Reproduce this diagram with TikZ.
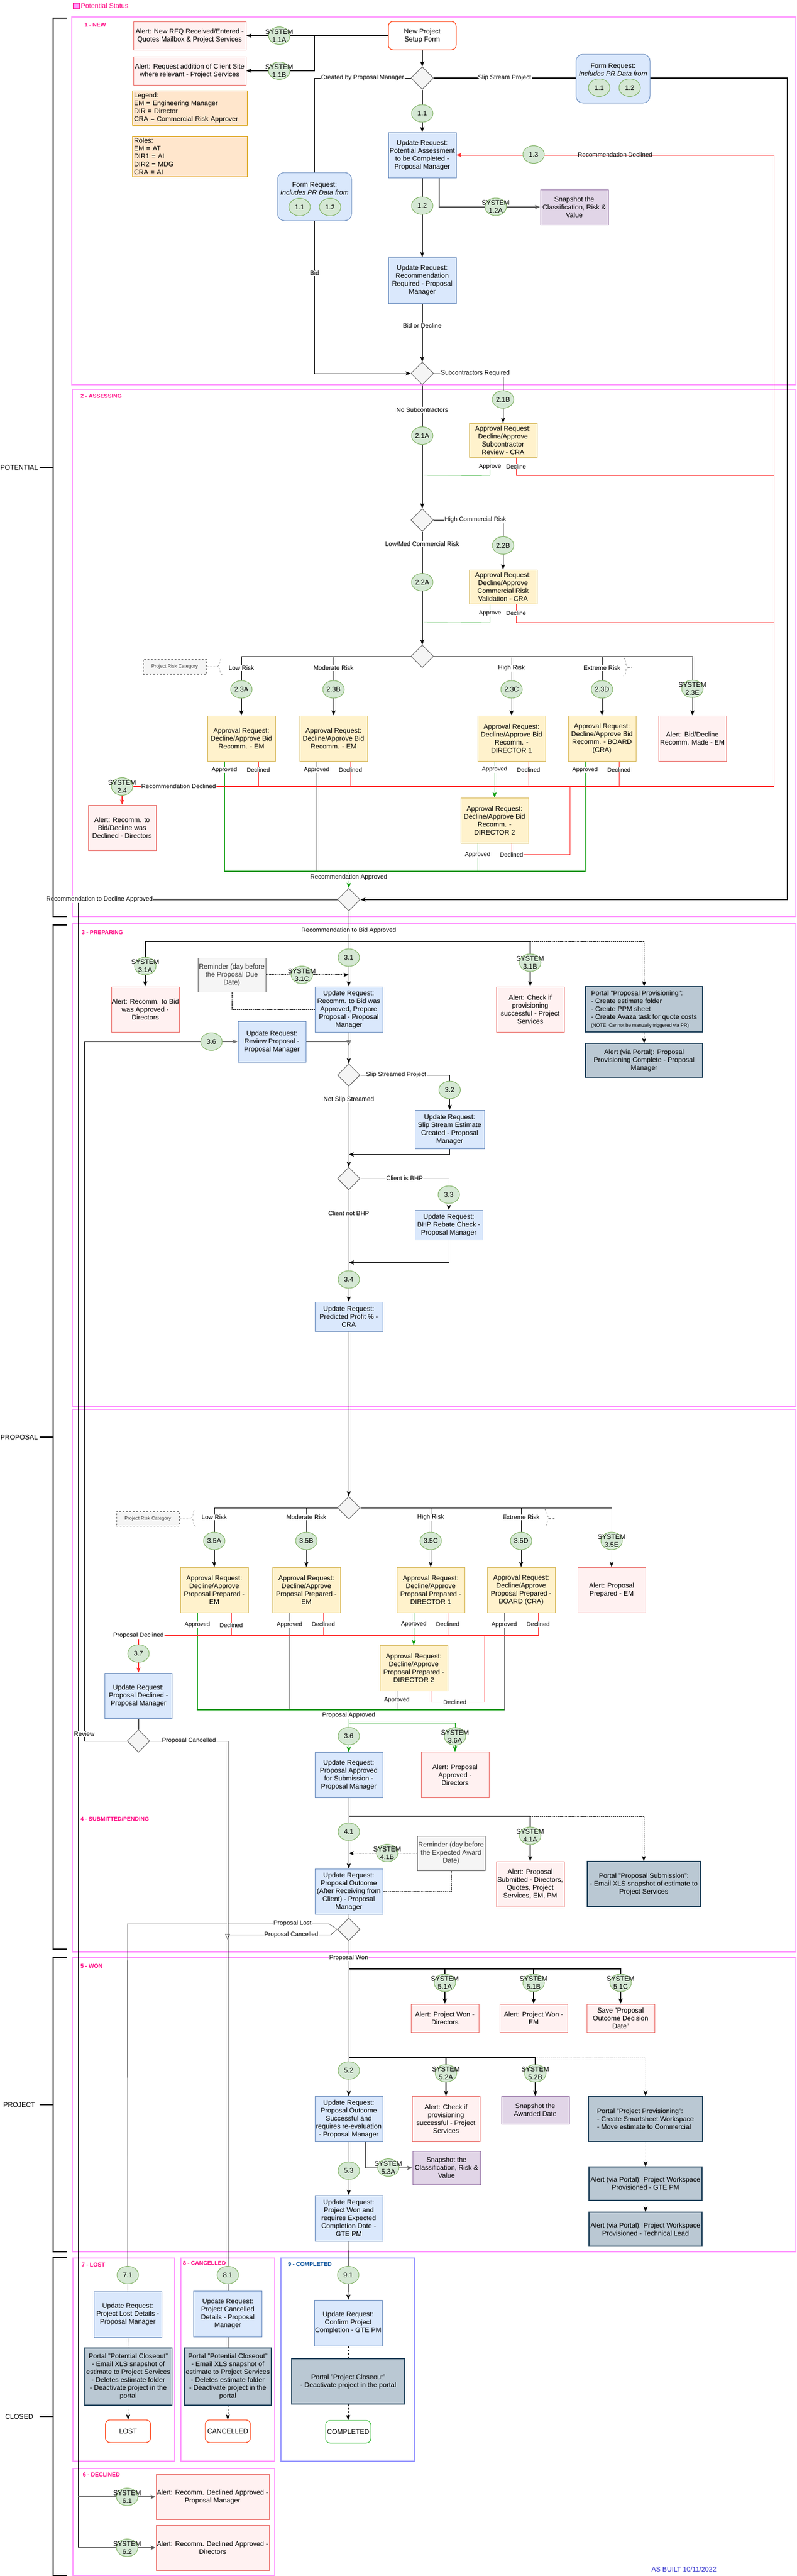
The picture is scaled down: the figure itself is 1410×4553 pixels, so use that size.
\documentclass[tikz,border=0pt]{standalone}
\usepackage{fontspec}
\setmainfont{Liberation Sans}
\usepackage{tikz}
\usetikzlibrary{arrows,arrows.meta,positioning,shapes.geometric,calc,decorations.pathreplacing}
\pgfdeclarelayer{background}
\pgfdeclarelayer{foreground}
\pgfsetlayers{background,main,foreground}
\definecolor{updfill}{HTML}{DAE8FC}
\definecolor{upddraw}{HTML}{6C8EBF}
\definecolor{apvfill}{HTML}{FFF2CC}
\definecolor{apvdraw}{HTML}{D6B656}
\definecolor{alrfill}{HTML}{FFF1F1}
\definecolor{alrdraw}{HTML}{EA6B66}
\definecolor{prtfill}{HTML}{BAC8D3}
\definecolor{prtdraw}{HTML}{23445D}
\definecolor{snpfill}{HTML}{E1D5E7}
\definecolor{snpdraw}{HTML}{9673A6}
\definecolor{bdgfill}{HTML}{D5E8D4}
\definecolor{bdgdraw}{HTML}{82B366}
\definecolor{lgdfill}{HTML}{FFE6CC}
\definecolor{lgddraw}{HTML}{D79B00}
\definecolor{lanepink}{HTML}{FF99FF}
\definecolor{lanetxt}{HTML}{FF0080}
\definecolor{laneblue}{HTML}{9999FF}
\definecolor{bluetxt}{HTML}{004C99}
\definecolor{termred}{HTML}{FF3300}
\definecolor{termgrn}{HTML}{2DB82D}
\definecolor{grn}{HTML}{009900}
\definecolor{rd}{HTML}{FF3333}
\definecolor{asbuilt}{HTML}{3333CC}
\tikzstyle{box}=[draw, inner sep=0pt, align=center, minimum width=120pt, minimum height=80pt]
\tikzstyle{ureq}=[box, fill=updfill, draw=upddraw]
\tikzstyle{areq}=[box, fill=apvfill, draw=apvdraw]
\tikzstyle{alrt}=[box, fill=alrfill, draw=alrdraw]
\tikzstyle{prtl}=[box, fill=prtfill, draw=prtdraw, line width=1.3pt]
\tikzstyle{snapb}=[box, fill=snpfill, draw=snpdraw]
\tikzstyle{remd}=[box, fill=black!4, draw=black!60, text=black!80, minimum height=60pt]
\tikzstyle{term}=[box, rounded corners=8pt, fill=white, draw=termred, minimum width=80pt, minimum height=40pt]
\tikzstyle{form}=[box, rounded corners=12pt, fill=updfill, draw=upddraw, minimum width=131pt, minimum height=86pt]
\tikzstyle{note}=[draw=lgddraw, fill=lgdfill, inner sep=3pt, text width=197pt, align=left]
\tikzstyle{decision}=[diamond, draw=black!60, fill=black!4, minimum width=40pt, minimum height=40pt, inner sep=0pt]
\tikzstyle{badge}=[ellipse, draw=bdgdraw, fill=bdgfill, minimum width=38pt, minimum height=31pt, inner sep=0pt]
\tikzstyle{prc}=[draw=black!60, dashed, fill=black!4, text=black!80, inner sep=0pt, minimum width=112pt, minimum height=27pt, font=\fontsize{8.5}{10}\selectfont]
\tikzstyle{line}=[draw, -{Stealth[length=9pt,width=7pt,inset=2pt]}]
\tikzstyle{heavy}=[line width=1.6pt]
\tikzstyle{lbl}=[fill=white, inner sep=1pt, font=\fontsize{11}{13}\selectfont]
\tikzstyle{sm}=[fill=white, inner sep=1pt, font=\fontsize{10.5}{12}\selectfont]
\tikzstyle{lane}=[draw=lanepink, line width=1.3pt]
\tikzstyle{lanelbl}=[anchor=west, inner sep=0pt, text=lanetxt, font=\bfseries]
\tikzstyle{brk}=[draw, line width=2.5pt]
\tikzstyle{brc}=[draw=black!70, dashed, decorate, decoration={brace,amplitude=8pt}]
\newcommand{\ureq}[3]{node (#1)[ureq,#2]{#3}}
\newcommand{\areq}[3]{node (#1)[areq,#2]{#3}}
\newcommand{\alrt}[3]{node (#1)[alrt,#2]{#3}}
\newcommand{\prtl}[3]{node (#1)[prtl,#2]{#3}}
\newcommand{\snapb}[3]{node (#1)[snapb,#2]{#3}}
\newcommand{\remd}[3]{node (#1)[remd,#2]{#3}}
\newcommand{\term}[3]{node (#1)[term,#2]{#3}}
\newcommand{\decn}[1]{node (#1)[decision]{}}
\newcommand{\bdg}[2]{node (#1)[badge]{#2}}
\newcommand{\sysb}[2]{node (#1)[badge,label={[align=center]center:{SYSTEM\\#2}}]{}}
\begin{document}
\begin{tikzpicture}[x=1pt,y=-1pt,line width=1pt,font=\fontsize{12}{14}\selectfont]
\useasboundingbox (0,0) rectangle (1410,4553);

% key and phases
\path (134.5,10) node (key)[draw=lanetxt, fill=lanepink, minimum width=11pt, minimum height=10pt, inner sep=0pt]{};
\path (key.east)+(2,0) node (keyt)[anchor=west, inner sep=0pt, text=lanetxt]{Potential Status};
\foreach \ya/\yb/\ph in {32/1620/POTENTIAL,1635/3445/PROPOSAL,3460/3980/PROJECT,3990/4552/CLOSED}{
  \draw[brk] (118,\ya) -- (94,\ya) -- (94,\yb) -- (118,\yb);
  \draw[brk] (70,{(\ya+\yb)/2}) -- (94,{(\ya+\yb)/2});
  \node[inner sep=0pt] at (34,{(\ya+\yb)/2}) {\ph};
}

% 1 - NEW
\node[lanelbl] (l1) at (149,44) {1 - NEW};
\path (747,63) \term{pnew}{minimum width=120pt, minimum height=50pt}{New Project\\Setup Form};
\path (335.5,63) \alrt{a11a}{minimum width=199pt, minimum height=50pt}{Alert: New RFQ Received/Entered -\\Quotes Mailbox \& Project Services};
\path (335.5,125) \alrt{a11b}{minimum width=199pt, minimum height=50pt}{Alert: Request addition of Client Site\\where relevant - Project Services};
\path (494,63) \sysb{s11a}{1.1A};
\path (494,125) \sysb{s11b}{1.1B};
\path (335.5,190.5) node (lgd)[note, minimum height=61pt]{Legend:\\EM = Engineering Manager\\DIR = Director\\CRA = Commercial Risk Approver};
\path (335.5,276.5) node (rls)[note, minimum height=71pt]{Roles:\\EM = AT\\DIR1 = AI\\DIR2 = MDG\\CRA = AI};
\path (747,138) \decn{d1};
\path (1084.5,139) node (fr2)[form]{};
\path (fr2.north)+(0,28) node (fr2t)[align=center, inner sep=0pt]{Form Request:\\\textit{Includes PR Data from}};
\path (fr2.center)+(-24.5,16) \bdg{f2a}{1.1};
\path (fr2.center)+(29.5,16) \bdg{f2b}{1.2};
\path (d1.south)+(0,42) \bdg{b11}{1.1};
\path (747,274) \ureq{u1}{}{Update Request:\\Potential Assessment\\to be Completed -\\Proposal Manager};
\path (944,273) \bdg{b13}{1.3};
\path (556.5,347.5) node (fr1)[form, minimum height=85pt]{};
\path (fr1.north)+(0,29) node (fr1t)[align=center, inner sep=0pt]{Form Request:\\\textit{Includes PR Data from}};
\path (fr1.center)+(-26.5,18.5) \bdg{f1a}{1.1};
\path (fr1.center)+(27.5,18.5) \bdg{f1b}{1.2};
\path (u1.south)+(0,49) \bdg{b12}{1.2};
\path (u1.south)+(130,51) \sysb{s12a}{1.2A};
\path (1016,366) \snapb{sn1}{minimum height=62pt}{Snapshot the\\Classification, Risk \&\\Value};
\path (747,495.5) \ureq{u2}{minimum height=81pt}{Update Request:\\Recommendation\\Required - Proposal\\Manager};
\path (747,660) \decn{d2};

% 2 - ASSESSING
\node[lanelbl] (l2) at (142,700) {2 - ASSESSING};
\path (890,706) \bdg{b21b}{2.1B};
\path (890,778) \areq{ap21b}{minimum height=60pt}{Approval Request:\\Decline/Approve\\Subcontractor\\Review - CRA};
\path (747,770) \bdg{b21a}{2.1A};
\path (747,919) \decn{d3};
\path (890,964) \bdg{b22b}{2.2B};
\path (890,1037) \areq{ap22b}{minimum height=60pt}{Approval Request:\\Decline/Approve\\Commercial Risk\\Validation - CRA};
\path (747,1029) \bdg{b22a}{2.2A};
\path (747,1160) \decn{d4};
\path (309,1178.5) node (prc1)[prc]{Project Risk Category};
\path (427,1305) \areq{ap23a}{}{Approval Request:\\Decline/Approve Bid\\Recomm. - EM};
\path (590,1305) \areq{ap23b}{}{Approval Request:\\Decline/Approve Bid\\Recomm. - EM};
\path (905,1305) \areq{ap23c}{}{Approval Request:\\Decline/Approve Bid\\Recomm. -\\DIRECTOR 1};
\path (1065,1305) \areq{ap23d}{}{Approval Request:\\Decline/Approve Bid\\Recomm. - BOARD\\(CRA)};
\path (1225,1305) \alrt{al23e}{}{Alert: Bid/Decline\\Recomm. Made - EM};
\path (ap23a.north)+(0,-46) \bdg{b23a}{2.3A};
\path (ap23b.north)+(0,-46) \bdg{b23b}{2.3B};
\path (ap23c.north)+(0,-46) \bdg{b23c}{2.3C};
\path (ap23d.north)+(0,-46) \bdg{b23d}{2.3D};
\path (al23e.north)+(0,-47) \sysb{s23e}{2.3E};
\path (875,1450) \areq{ap23f}{}{Approval Request:\\Decline/Approve Bid\\Recomm. -\\DIRECTOR 2};
\path (216,1390) \sysb{s24}{2.4};
\path (216,1463) \alrt{al24}{}{Alert: Recomm. to\\Bid/Decline was\\Declined - Directors};
\path (617,1590) \decn{d5};

% 3 - PREPARING
\node[lanelbl] (l3) at (144,1648) {3 - PREPARING};
\path (617,1784) \ureq{u31}{}{Update Request:\\Recomm. to Bid was\\Approved, Prepare\\Proposal - Proposal\\Manager};
\path (u31.north)+(0,-51) \bdg{b31}{3.1};
\path (257,1784) \alrt{al31a}{}{Alert: Recomm. to Bid\\was Approved -\\Directors};
\path (al31a.north)+(0,-36) \sysb{s31a}{3.1A};
\path (938,1784) \alrt{al31b}{}{Alert: Check if\\provisioning\\successful - Project\\Services};
\path (al31b.north)+(0,-42) \sysb{s31b}{3.1B};
\path (1139.5,1784) \prtl{pr31}{minimum width=207pt, align=left}{Portal "Proposal Provisioning":\\- Create estimate folder\\- Create PPM sheet\\- Create Avaza task for quote costs\\{\fontsize{8.5}{10}\selectfont(NOTE: Cannot be manually triggered via PR)}};
\path (pr31.south)+(0,50) \prtl{pr31b}{minimum width=207pt, minimum height=60pt}{Alert (via Portal): Proposal\\Provisioning Complete - Proposal\\Manager};
\path (410,1723) \remd{rm31}{}{Reminder (day before\\the Proposal Due\\Date)};
\path (534,1723) \sysb{s31c}{3.1C};
\path (481,1841) \ureq{ur36r}{minimum height=72pt}{Update Request:\\Review Proposal -\\Proposal Manager};
\path (374,1841) \bdg{b36}{3.6};
\path (617,1900) \decn{d6};
\path (795.5,1996) \ureq{u32}{minimum width=123pt, minimum height=68pt}{Update Request:\\Slip Stream Estimate\\Created - Proposal\\Manager};
\path (u32.north)+(0,-35) \bdg{b32}{3.2};
\path (617,2083) \decn{d7};
\path (794,2165) \ureq{u33}{minimum height=52pt}{Update Request:\\BHP Rebate Check -\\Proposal Manager};
\path (u33.north)+(0,-27) \bdg{b33}{3.3};
\path (617,2327) \ureq{u34}{minimum height=52pt}{Update Request:\\Predicted Profit \% -\\CRA};
\path (u34.north)+(0,-39) \bdg{b34}{3.4};
\path (617,2665) \decn{d8};
\path (261.5,2684) node (prc2)[prc, minimum width=111pt, minimum height=26pt]{Project Risk Category};
\path (379,2810) \areq{ap35a}{}{Approval Request:\\Decline/Approve\\Proposal Prepared -\\EM};
\path (542,2810) \areq{ap35b}{}{Approval Request:\\Decline/Approve\\Proposal Prepared -\\EM};
\path (762,2810) \areq{ap35c}{}{Approval Request:\\Decline/Approve\\Proposal Prepared -\\DIRECTOR 1};
\path (922,2810) \areq{ap35d}{}{Approval Request:\\Decline/Approve\\Proposal Prepared -\\BOARD (CRA)};
\path (1082,2810) \alrt{al35e}{}{Alert: Proposal\\Prepared - EM};
\path (ap35a.north)+(0,-46) \bdg{b35a}{3.5A};
\path (ap35b.north)+(0,-46) \bdg{b35b}{3.5B};
\path (ap35c.north)+(0,-46) \bdg{b35c}{3.5C};
\path (ap35d.north)+(0,-46) \bdg{b35d}{3.5D};
\path (al35e.north)+(0,-46) \sysb{s35e}{3.5E};
\path (732,2948) \areq{ap35f}{}{Approval Request:\\Decline/Approve\\Proposal Prepared -\\DIRECTOR 2};
\path (245,2997) \ureq{u37}{minimum width=119pt}{Update Request:\\Proposal Declined -\\Proposal Manager};
\path (u37.north)+(0,-34) \bdg{b37}{3.7};
\path (245,3077) \decn{d9};
\path (617,3137) \ureq{u36}{}{Update Request:\\Proposal Approved\\for Submission -\\Proposal Manager};
\path (u36.north)+(0,-28) \bdg{b36b}{3.6};
\path (805,3137) \alrt{al36a}{minimum height=81pt}{Alert: Proposal\\Approved -\\Directors};
\path (al36a.north)+(0,-27) \sysb{s36a}{3.6A};

% 4 - SUBMITTED/PENDING
\node[lanelbl] (l4) at (142,3215) {4 - SUBMITTED/PENDING};
\path (617,3343) \ureq{u41}{}{Update Request:\\Proposal Outcome\\(After Receiving from\\Client) - Proposal\\Manager};
\path (u41.north)+(0,-65) \bdg{b41}{4.1};
\path (938,3330) \alrt{al41a}{}{Alert: Proposal\\Submitted - Directors,\\Quotes, Project\\Services, EM, PM};
\path (al41a.north)+(0,-45) \sysb{s41a}{4.1A};
\path (1139,3330) \prtl{pr41}{minimum width=200pt}{Portal "Proposal Submission":\\- Email XLS snapshot of estimate to\\Project Services};
\path (798,3275.5) \remd{rm41}{minimum height=61pt}{Reminder (day before\\the Expected Award\\Date)};
\path (685,3275) \sysb{s41b}{4.1B};
\path (617,3410) \decn{d10};

% 5 - WON
\node[lanelbl] (l5) at (142,3475) {5 - WON};
\path (787,3567) \alrt{al51a}{minimum height=50pt}{Alert: Project Won -\\Directors};
\path (944,3567) \alrt{al51b}{minimum height=50pt}{Alert: Project Won -\\EM};
\path (1098,3567) \alrt{al51c}{minimum height=50pt}{Save "Proposal\\Outcome Decision\\Date"};
\path (al51a.north)+(0,-37) \sysb{s51a}{5.1A};
\path (al51b.north)+(0,-37) \sysb{s51b}{5.1B};
\path (al51c.north)+(0,-37) \sysb{s51c}{5.1C};
\path (617,3745) \ureq{u52}{}{Update Request:\\Proposal Outcome\\Successful and\\requires re-evaluation\\- Proposal Manager};
\path (u52.north)+(0,-45) \bdg{b52}{5.2};
\path (789,3745) \alrt{al52a}{}{Alert: Check if\\provisioning\\successful - Project\\Services};
\path (al52a.north)+(0,-40) \sysb{s52a}{5.2A};
\path (947,3729.5) \snapb{sn52}{minimum height=49pt}{Snapshot the\\Awarded Date};
\path (sn52.north)+(0,-40) \sysb{s52b}{5.2B};
\path (1142,3745) \prtl{pr52}{minimum width=202pt, align=left}{Portal "Project Provisioning":\\- Create Smartsheet Workspace\\- Move estimate to Commercial};
\path (1142,3859.5) \prtl{pa52}{minimum width=200pt, minimum height=59pt}{Alert (via Portal): Project Workspace\\Provisioned - GTE PM};
\path (1142,3940) \prtl{pa52b}{minimum width=200pt, minimum height=60pt}{Alert (via Portal): Project Workspace\\Provisioned - Technical Lead};
\path (617,3920.5) \ureq{u53}{minimum height=81pt}{Update Request:\\Project Won and\\requires Expected\\Completion Date -\\GTE PM};
\path (u53.north)+(0,-43) \bdg{b53}{5.3};
\path (790,3831.5) \snapb{sn53}{minimum height=59pt}{Snapshot the\\Classification, Risk \&\\Value};
\path (687,3831) \sysb{s53a}{5.3A};

% 7, 8, 9, 6
\node[lanelbl, font=\fontsize{10}{12}\selectfont\bfseries] (l7) at (144,4003) {7 - LOST};
\node[lanelbl, font=\fontsize{10}{12}\selectfont\bfseries] (l8) at (323,4000) {8 - CANCELLED};
\node[lanelbl, text=bluetxt, font=\fontsize{10}{12}\selectfont\bfseries] (l9) at (509,4002) {9 - COMPLETED};
\node[lanelbl, font=\fontsize{10}{12}\selectfont\bfseries] (l6) at (146,4374) {6 - DECLINED};
\path (226,4090.5) \ureq{u71}{minimum height=81pt}{Update Request:\\Project Lost Details -\\Proposal Manager};
\path (226,4021) \bdg{b71}{7.1};
\path (227,4200.5) \prtl{pr71}{minimum width=155pt, minimum height=101pt}{Portal "Potential Closeout"\\- Email XLS snapshot of\\estimate to Project Services\\- Deletes estimate folder\\- Deactivate project in the\\portal};
\path (226.5,4297) \term{t71}{}{LOST};
\path (403,4089.5) \ureq{u81}{minimum width=121pt, minimum height=81pt}{Update Request:\\Project Cancelled\\Details - Proposal\\Manager};
\path (403,4021) \bdg{b81}{8.1};
\path (403,4200.5) \prtl{pr81}{minimum width=154pt, minimum height=101pt}{Portal "Potential Closeout"\\- Email XLS snapshot of\\estimate to Project Services\\- Deletes estimate folder\\- Deactivate project in the\\portal};
\path (403,4297) \term{t81}{}{CANCELLED};
\path (616,4105.5) \ureq{u91}{minimum height=81pt}{Update Request:\\Confirm Project\\Completion - GTE PM};
\path (616,4021) \bdg{b91}{9.1};
\path (616,4209) \prtl{pr91}{minimum width=200pt}{Portal "Project Closeout"\\- Deactivate project in the portal};
\path (616,4298) \term{t91}{draw=termgrn}{COMPLETED};
\path (376,4413) \alrt{al61}{minimum width=200pt}{Alert: Recomm. Declined Approved -\\Proposal Manager};
\path (225,4413) \sysb{s61}{6.1};
\path (376,4503) \alrt{al62}{minimum width=200pt}{Alert: Recomm. Declined Approved -\\Directors};
\path (225,4503) \sysb{s62}{6.2};
\node[anchor=west, inner sep=0pt, text=asbuilt] (asb) at (1152,4541) {AS BUILT 10/11/2022};

% junctions
\coordinate (j11) at (556,63);
\coordinate (rb) at (1369,1390);
\coordinate (g21) at (747,840);
\coordinate (g22) at (747,1100);
\coordinate (gb1) at (397,1540);
\coordinate (gb2) at (1035,1540);
\coordinate (j31) at (617,1664);
\coordinate (cr9) at (149,3077);
\coordinate (cr36) at (149,1841);
\coordinate (rb3) at (953,2891);
\coordinate (gb3) at (348,3022);
\coordinate (gb4) at (892,3022);
\coordinate (g36) at (617,3045);
\coordinate (j41) at (617,3210);
\coordinate (j51) at (617,3480);
\coordinate (j52) at (617,3637);
\coordinate (j61) at (138,4413);
\coordinate (j62) at (138,4503);

\begin{pgfonlayer}{background}
% lanes
\draw[lane] (127,30) rectangle (1408,680);
\draw[lane] (128,688) rectangle (1408,1620);
\draw[lane] (128,1632) rectangle (1408,2486);
\draw[lane] (128,2491) rectangle (1408,3450);
\draw[lane] (128,3460) rectangle (1408,3980);
\draw[lane] (129,3991) rectangle (309,4350);
\draw[lane] (320,3991) rectangle (486,4350);
\draw[lane, draw=laneblue] (497,3991) rectangle (733,4350);
\draw[lane] (129,4363) rectangle (486,4552);

% 1 - NEW
\path[line,heavy] (pnew) -- (a11a);
\path[line,heavy] (j11) |- (a11b);
\path[line] (pnew) -- (d1);
\path[line] (d1.west) -- node[lbl]{Created by Proposal Manager} (d1.west -| fr1) |- node[lbl,pos=0.33]{Bid} (d2.west);
\path[line,heavy] (d1.east) -- node[lbl,pos=0.2]{Slip Stream Project} (1393,138) |- (d5.east);
\path[line] (d1) -- (u1);
\path[line,draw=rd] (rb) -- (1369,274) -- node[font=\fontsize{11}{13}\selectfont]{Recommendation Declined} (u1.east);
\path[line] (u1) -- (u2);
\path[line,heavy,draw=black!65] ($(u1.south)+(30,0)$) |- (sn1);
\path[line] (u2) -- node[lbl,pos=0.375]{Bid or Decline} (d2);

% 2 - ASSESSING
\path[line] (d2.east) -- node[lbl,pos=0.6]{Subcontractors Required} (d2.east -| ap21b) -- (ap21b);
\path[line] (d2) -- node[lbl,pos=0.2]{No Subcontractors} (d3);
\path[draw=grn] ($(ap21b.south)+(-23,0)$) -- node[sm]{Approve} ++(0,32) -- (g21);
\path[draw=rd] ($(ap21b.south)+(23,0)$) -- node[sm]{Decline} ++(0,32) -| (rb);
\path[line] (d3.east) -- node[lbl,pos=0.6]{High Commercial Risk} (d3.east -| ap22b) -- (ap22b);
\path[line] (d3) -- node[lbl,pos=0.11]{Low/Med Commercial Risk} (d4);
\path[draw=grn] ($(ap22b.south)+(-23,0)$) -- node[sm]{Approve} ++(0,33) -- (g22);
\path[draw=rd] ($(ap22b.south)+(23,0)$) -- node[sm]{Decline} ++(0,33) -| (rb);
\path[line] (d4.west) -| node[lbl,pos=0.6]{Low Risk} (ap23a);
\path[line] (d4.west) -| node[lbl,pos=0.6]{Moderate Risk} (ap23b);
\path[line] (d4.east) -| node[lbl,pos=0.6]{High Risk} (ap23c);
\path[line] (d4.east) -| node[lbl,pos=0.6]{Extreme Risk} (ap23d);
\path[line] (d4.east) -| (al23e);
\draw[brc] (393,1193) -- (393,1163);
\draw[brc] (1103,1163) -- (1103,1195);
\path[draw=black!70,dashed] (prc1) -- (385,1178);
\path[draw=black!70,dashed] (1111,1179) -- (1118,1179);
\path[draw=grn] ($(ap23a.south)+(-30,0)$) -- node[sm,pos=0.077]{Approved} ++(0,195);
\path[draw=rd] ($(ap23a.south)+(30,0)$) -- node[sm,pos=0.33]{Declined} ++(0,45);
\path[draw=black!60] ($(ap23b.south)+(-30,0)$) -- node[sm,pos=0.077]{Approved} ++(0,195);
\path[draw=rd] ($(ap23b.south)+(30,0)$) -- node[sm,pos=0.33]{Declined} ++(0,45);
\path[line,draw=grn] ($(ap23c.south)+(-30,0)$) -- node[sm,pos=0.23]{Approved} (ap23f);
\path[draw=rd] ($(ap23c.south)+(30,0)$) -- node[sm,pos=0.33]{Declined} ++(0,45);
\path[draw=grn] ($(ap23d.south)+(-30,0)$) -- node[sm,pos=0.077]{Approved} ++(0,195);
\path[draw=rd] ($(ap23d.south)+(30,0)$) -- node[sm,pos=0.33]{Declined} ++(0,45);
\path[draw=grn] ($(ap23f.south)+(-30,0)$) -- node[sm,pos=0.4]{Approved} ++(0,50);
\path[draw=rd] ($(ap23f.south)+(30,0)$) -- ++(0,20) node[sm]{Declined} -- ++(103,0) -- ++(0,-120);
\path[draw=grn,heavy] (gb1) -- (gb2);
\path[line,draw=grn] (d5 |- gb1) -- node[lbl,pos=0.37]{Recommendation Approved} (d5);
\path[line,draw=rd,heavy] (rb) -- node[lbl,pos=0.929]{Recommendation Declined} (s24) -- (al24);
\path[draw] (d5.west) -- node[lbl,pos=0.917]{Recommendation to Decline Approved} (138,1590) -- (j62);
\path[line,heavy,draw=black!65] (j61) -- (al61);
\path[line,heavy,draw=black!65] (j62) -- (al62);
\path[line] (d5) -- node[lbl,pos=0.26]{Recommendation to Bid Approved} (u31);

% 3 - PREPARING
\path[line,heavy] (j31) -| (al31a);
\path[line,heavy] (j31) -| (al31b);
\path[line,densely dotted] (j31 -| al31b) -| (pr31);
\path[line,dashed] (pr31) -- (pr31b);
\path[line,heavy,densely dotted] (rm31) -- (rm31 -| u31);
\path[draw,densely dotted] (rm31) |- (u31);
\path[draw] (d9.west) -- (cr9) -- node[lbl,pos=0.01]{Review} (cr36);
\path[line,heavy,draw=black!55] (cr36) -- (ur36r);
\path[draw,heavy,draw=black!55,-{Triangle[open,length=10pt,width=8pt]}] (ur36r) -| ($(u31.south)+(0,24)$);
\path[line] (u31) -- (d6);
\path[line] (d6.east) -- node[lbl,pos=0.4]{Slip Streamed Project} (d6.east -| u32) -- (u32);
\path[line] (u32) |- ($(d6.south)+(0,120)$);
\path[line] (d6) -- node[lbl,pos=0.16]{Not Slip Streamed} (d7);
\path[line] (d7.east) -- node[lbl]{Client is BHP} (d7.east -| u33) -- (u33);
\path[line] (u33) |- ($(d7.south)+(0,128)$);
\path[line] (d7) -- node[lbl,pos=0.21]{Client not BHP} (u34);
\path[line] (u34) -- (d8);
\path[line] (d8.west) -| node[lbl,pos=0.58]{Low Risk} (ap35a);
\path[line] (d8.west) -| node[lbl,pos=0.58]{Moderate Risk} (ap35b);
\path[line] (d8.east) -| node[lbl,pos=0.58]{High Risk} (ap35c);
\path[line] (d8.east) -| node[lbl,pos=0.58]{Extreme Risk} (ap35d);
\path[line] (d8.east) -| (al35e);
\draw[brc] (346,2698) -- (346,2668);
\draw[brc] (964,2668) -- (964,2698);
\path[draw=black!70,dashed] (prc2) -- (338,2683);
\path[draw=black!70,dashed] (972,2683) -- (981,2683);
\path[draw=grn] ($(ap35a.south)+(-30,0)$) -- node[sm,pos=0.122]{Approved} ++(0,172);
\path[draw=rd] ($(ap35a.south)+(30,0)$) -- node[sm,pos=0.55]{Declined} ++(0,41);
\path[draw=black!60] ($(ap35b.south)+(-30,0)$) -- node[sm,pos=0.122]{Approved} ++(0,172);
\path[draw=rd] ($(ap35b.south)+(30,0)$) -- node[sm]{Declined} ++(0,41);
\path[line,draw=grn] ($(ap35c.south)+(-30,0)$) -- node[sm,pos=0.36]{Approved} (ap35f);
\path[draw=rd] ($(ap35c.south)+(30,0)$) -- node[sm]{Declined} ++(0,41);
\path[draw=black!60] ($(ap35d.south)+(-30,0)$) -- node[sm,pos=0.122]{Approved} ++(0,172);
\path[draw=rd] ($(ap35d.south)+(30,0)$) -- node[sm]{Declined} ++(0,41);
\path[draw=black!60] ($(ap35f.south)+(-30,0)$) -- node[sm,pos=0.47]{Approved} ++(0,34);
\path[draw=rd] ($(ap35f.south)+(30,0)$) -- ++(0,20) -- node[sm,pos=0.45]{Declined} ++(95,0) -- ++(0,-117);
\path[line,draw=rd,heavy] (rb3) -- (rb3 -| u37) node[lbl]{Proposal Declined} -- (u37);
\path[draw=grn,heavy] (gb3) -- (gb4);
\path[line,draw=grn] (d8 |- gb3) -- node[lbl,pos=0.13]{Proposal Approved} (u36);
\path[line,draw=grn] (g36) -| (al36a);
\path[draw] (u37) -- (d9);
\path[draw] (d9.east) -- node[lbl]{Proposal Cancelled} (d9.east -| u81) -- (u81);

% 4 - SUBMITTED/PENDING
\path[line] (u36) -- (u41);
\path[line,heavy] (j41) -| (al41a);
\path[line,densely dotted] (j41 -| al41a) -| (pr41);
\path[line,heavy,densely dotted] (rm41) -- (rm41 -| u41);
\path[draw,densely dotted] (rm41) |- (u41);
\path[draw] (u41) -- (d10);
\path[draw] (d10.west) -- ++(-15,-10) -- node[lbl,pos=0.18]{Proposal Lost} ++(-356,0) -- (u71);
\path[draw,-{Triangle[open,length=10pt,width=8pt]}] (d10.west) -- ++(-12,10) -- node[lbl,pos=0.38]{Proposal Cancelled} ++(-182,0) -- ++(0,8);

% 5 - WON
\path[draw] (d10) -- node[lbl,pos=0.6]{Proposal Won} (j51);
\path[line,heavy] (j51) -| (al51a);
\path[line,heavy] (j51) -| (al51b);
\path[line,heavy] (j51) -| (al51c);
\path[line] (j51) -- (u52);
\path[line,heavy] (j52) -| (al52a);
\path[line,heavy] (j52) -| (sn52);
\path[line,densely dotted] (j52 -| sn52) -| (pr52);
\path[line] (u52) -- (u53);
\path[line,heavy,draw=black!65] ($(u52.south)+(30,0)$) |- (sn53);
\path[line,dashed] (pr52) -- (pa52);
\path[line,dashed] (pa52) -- (pa52b);
\path[line] (u53) -- (u91);

% closed
\path[draw] (u71) -- (pr71);
\path[line,dashed] (pr71) -- (t71);
\path[draw] (u81) -- (pr81);
\path[line,dashed] (pr81) -- (t81);
\path[draw,dashed] (u91) -- (pr91);
\path[line,dashed] (pr91) -- (t91);
\end{pgfonlayer}
\end{tikzpicture}
\end{document}
